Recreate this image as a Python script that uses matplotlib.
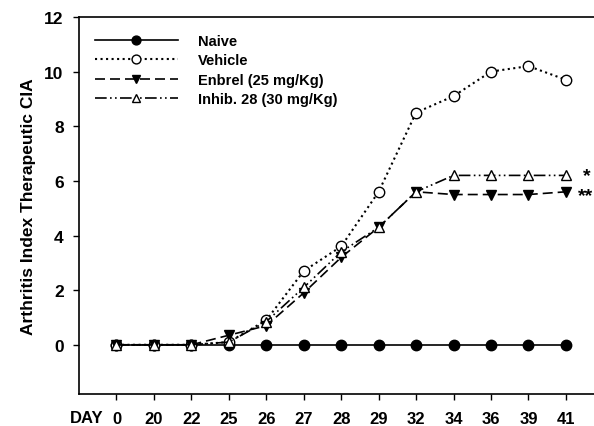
import numpy as np
import matplotlib
matplotlib.use("Agg")
from matplotlib import pyplot as plt

plt.rcParams['font.family'] = ['Liberation Sans', 'DejaVu Sans']
plt.rcParams['font.weight'] = 'bold'

days = ["0", "20", "22", "25", "26", "27", "28", "29", "32", "34", "36", "39", "41"]
naive = [0, 0, 0, 0, 0, 0, 0, 0, 0, 0, 0, 0, 0]
vehicle = [0, 0, 0, 0.1, 0.9, 2.7, 3.6, 5.6, 8.5, 9.1, 10.0, 10.2, 9.7]
enbrel = [0, 0, 0, 0.35, 0.7, 1.9, 3.2, 4.3, 5.6, 5.5, 5.5, 5.5, 5.6]
inhib = [0, 0, 0, 0.1, 0.85, 2.1, 3.4, 4.3, 5.6, 6.2, 6.2, 6.2, 6.2]

x = np.arange(len(days))

fig = plt.figure(figsize=(5.94, 4.27), dpi=100)
ax = fig.add_axes([0.133, 0.075, 0.867, 0.883])

ax.plot(x, naive, '-', color='black', lw=1.2, marker='o', ms=7.5,
        mfc='black', mec='black', label='Naive')
ax.plot(x, vehicle, ':', color='black', lw=1.5, marker='o', ms=7.5,
        mfc='white', mec='black', label='Vehicle')
ax.plot(x, enbrel, '--', color='black', lw=1.2, dashes=(6, 3), marker='v', ms=7.5,
        mfc='black', mec='black', label='Enbrel (25 mg/Kg)')
ax.plot(x, inhib, color='black', lw=1.2, dashes=(7, 2, 1, 2, 1, 2), marker='^', ms=7.5,
        mfc='white', mec='black', label='Inhib. 28 (30 mg/Kg)')

ax.text(12.45, 6.2, '*', fontsize=14, fontweight='bold', va='center', ha='left', clip_on=False)
ax.text(12.32, 5.45, '**', fontsize=14, fontweight='bold', va='center', ha='left', clip_on=False)

ax.set_xlim(-1, 12.75)
ax.set_ylim(-1.8, 12)
ax.set_yticks(range(0, 13, 2))
ax.set_xticks(x)
ax.set_xticklabels(days)
ax.tick_params(direction='out', length=4.5, width=1)
ax.tick_params(axis='x', labelsize=12, pad=8)
ax.tick_params(axis='y', labelsize=12.5, pad=6.5)
ax.spines['right'].set_visible(False)
for s in ['left', 'bottom', 'top']:
    ax.spines[s].set_linewidth(1.2)
ax.set_ylabel('Arthritis Index Therapeutic CIA', fontsize=12.5, fontweight='bold', labelpad=6)
ax.text(-0.8, -2.65, 'DAY', fontsize=12, fontweight='bold', va='center', ha='center', clip_on=False)

leg = ax.legend(loc='upper left', frameon=False, fontsize=10.5, handlelength=5.7,
                bbox_to_anchor=(0.005, 0.99), labelspacing=0.38, handletextpad=1.35,
                markerscale=0.85)

fig.savefig('out.png', dpi=100)
